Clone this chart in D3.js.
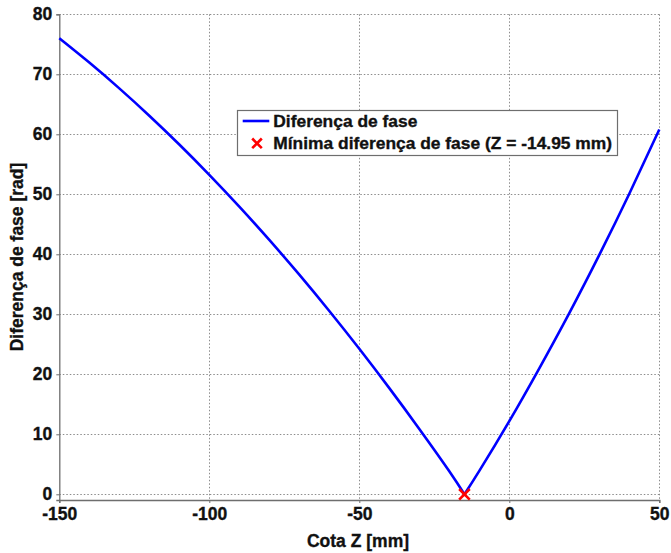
<!DOCTYPE html>
<html>
<head>
<meta charset="utf-8">
<script src="https://cdn.jsdelivr.net/npm/d3@7"></script>
<style>
  html, body { margin: 0; padding: 0; background: #fff; }
  text { font-family: "Liberation Sans", Arial, sans-serif; font-weight: bold; }
</style>
</head>
<body>
<svg id="chart"></svg>
<script>
// Data: left branch (down to the minimum) and right branch
const leftZ = [-150, -140, -130, -120, -110, -100, -90, -80, -70, -60, -50, -40, -30, -20, -14.95];
const leftV = [76.0, 71.95, 67.65, 63.1, 58.3, 53.25, 47.95, 42.4, 36.6, 30.55, 24.25, 17.7, 10.9, 3.85, 0];
const rightZ = [-14.95, -10, 0, 10, 20, 30, 40, 50];
const rightV = [0, 3.9, 12.2, 21.0, 30.2, 39.9, 50.1, 60.8];
const minPoint = { z: -14.95, v: 0 };

const xTicks = [-150, -100, -50, 0, 50];
const yTicks = [0, 10, 20, 30, 40, 50, 60, 70, 80];
const legendLabels = ['Diferença de fase', 'Mínima diferença de fase (Z = -14.95 mm)'];

const width = 671;
const height = 553;
const plotLeft = 59.3, plotRight = 659.3, plotTop = 14.3, plotBottom = 500;

const svg = d3.select('#chart')
  .attr('width', width)
  .attr('height', height);

const xScale = d3.scaleLinear().domain([-150, 50]).range([plotLeft, plotRight]);
const yScale = d3.scaleLinear().domain([-0.95, 80]).range([plotBottom, plotTop]);

// grid
const grid = svg.append('g')
  .attr('stroke', '#8c8c8c')
  .attr('stroke-width', 1)
  .attr('stroke-dasharray', '1.5,2');

grid.selectAll('.gx')
  .data(xTicks.filter((t) => t !== -150))
  .enter()
  .append('line')
  .attr('x1', (t) => Math.round(xScale(t)) + 0.5)
  .attr('x2', (t) => Math.round(xScale(t)) + 0.5)
  .attr('y1', plotTop)
  .attr('y2', plotBottom);

grid.selectAll('.gy')
  .data(yTicks)
  .enter()
  .append('line')
  .attr('x1', plotLeft)
  .attr('x2', plotRight)
  .attr('y1', (t) => Math.round(yScale(t)) + 0.5)
  .attr('y2', (t) => Math.round(yScale(t)) + 0.5);

// axes (only left and bottom, no box); plain hyphen for negatives
const fmt = (d) => String(d);

const xAxis = svg.append('g')
  .attr('transform', `translate(0, ${plotBottom})`)
  .call(d3.axisBottom(xScale).tickValues(xTicks).tickFormat(fmt).tickSize(3).tickPadding(5));

const yAxis = svg.append('g')
  .attr('transform', `translate(${plotLeft}, 0)`)
  .call(d3.axisLeft(yScale).tickValues(yTicks).tickFormat(fmt).tickSize(3).tickPadding(4));

[xAxis, yAxis].forEach((ax) => {
  ax.select('.domain').attr('stroke', '#6e6e6e').attr('stroke-width', 1.3);
  ax.selectAll('.tick line').attr('stroke', '#6e6e6e');
  ax.selectAll('.tick text')
    .attr('fill', '#111')
    .attr('stroke', '#111')
    .attr('stroke-width', 0.35)
    .style('font-size', '17.5px')
    .style('font-family', '"Liberation Sans", Arial, sans-serif')
    .style('font-weight', 'bold');
});

// curve, one spline per branch so the minimum stays sharp
const line = d3.line()
  .x((d) => xScale(d[0]))
  .y((d) => yScale(d[1]))
  .curve(d3.curveNatural);

[[leftZ, leftV], [rightZ, rightV]].forEach(([zs, vs]) => {
  svg.append('path')
    .datum(zs.map((z, i) => [z, vs[i]]))
    .attr('fill', 'none')
    .attr('stroke', '#0000ff')
    .attr('stroke-width', 2.6)
    .attr('stroke-linejoin', 'round')
    .attr('d', line);
});

// minimum marker
const mx = xScale(minPoint.z), my = yScale(minPoint.v), r = 5.3;
svg.append('path')
  .attr('d', `M${mx - r},${my - r}L${mx + r},${my + r}M${mx - r},${my + r}L${mx + r},${my - r}`)
  .attr('stroke', '#ff0000')
  .attr('stroke-width', 2.6)
  .attr('fill', 'none');

// axis labels
svg.append('text')
  .attr('x', 358)
  .attr('y', 547)
  .attr('text-anchor', 'middle')
  .attr('font-size', 17.5)
  .attr('fill', '#111')
  .attr('stroke', '#111')
  .attr('stroke-width', 0.35)
  .text('Cota Z [mm]');

svg.append('text')
  .attr('transform', 'translate(23, 257) rotate(-90)')
  .attr('text-anchor', 'middle')
  .attr('font-size', 17.5)
  .attr('fill', '#111')
  .attr('stroke', '#111')
  .attr('stroke-width', 0.35)
  .text('Diferença de fase [rad]');

// legend
const legend = svg.append('g');
legend.append('rect')
  .attr('x', 237.5)
  .attr('y', 110.5)
  .attr('width', 380)
  .attr('height', 45)
  .attr('fill', '#fff')
  .attr('stroke', '#6e6e6e')
  .attr('stroke-width', 1.2);

legend.append('line')
  .attr('x1', 242.7).attr('x2', 269.3)
  .attr('y1', 121).attr('y2', 121)
  .attr('stroke', '#0000ff')
  .attr('stroke-width', 2.6);

const lx = 257, ly = 143.3, lr = 4.8;
legend.append('path')
  .attr('d', `M${lx - lr},${ly - lr}L${lx + lr},${ly + lr}M${lx - lr},${ly + lr}L${lx + lr},${ly - lr}`)
  .attr('stroke', '#ff0000')
  .attr('stroke-width', 2.6);

legend.selectAll('.lt')
  .data(legendLabels)
  .enter()
  .append('text')
  .attr('x', 273.3)
  .attr('y', (d, i) => 127 + i * 22.3)
  .attr('font-size', 17.4)
  .attr('fill', '#111')
  .attr('stroke', '#111')
  .attr('stroke-width', 0.35)
  .text((d) => d);
</script>
</body>
</html>
